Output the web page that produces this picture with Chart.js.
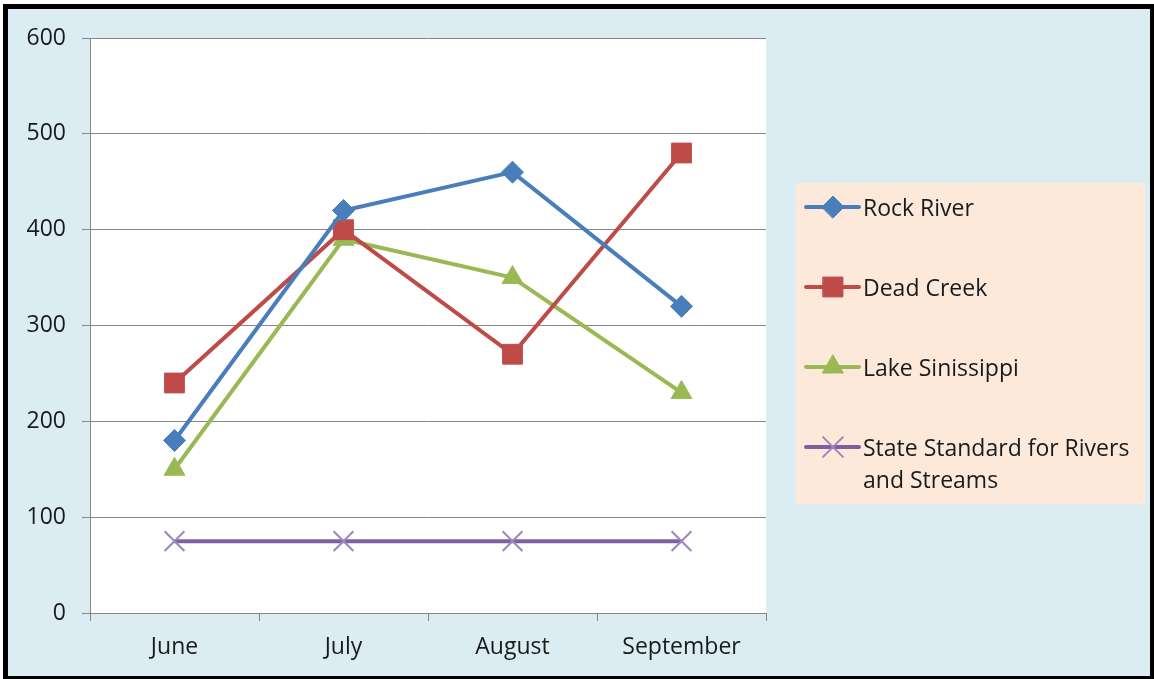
<!DOCTYPE html>
<html>
<head>
<meta charset="utf-8">
<script src="https://cdn.jsdelivr.net/npm/chart.js@4/dist/chart.umd.min.js"></script>
<style>
  html, body { margin: 0; padding: 0; background: #fff; overflow: hidden; }
  #frame {
    position: absolute; left: 3px; top: 4px; width: 1151px; height: 675px;
    box-sizing: border-box; background: #dbedf3;
    border-style: solid; border-color: #000; border-width: 5px 4px 3px 5px;
  }
  #chart { position: absolute; left: 0; top: 0; }
</style>
</head>
<body>
<div id="frame"></div>
<canvas id="chart" width="1154" height="679"></canvas>
<script>
// ── Données ─────────────────────────────────────────
const months = ['June', 'July', 'August', 'September'];
const rockRiver = [180, 420, 460, 320];
const deadCreek = [240, 400, 270, 480];
const lakeSinissippi = [150, 390, 350, 230];
const stateStandard = [75, 75, 75, 75];
const seriesNames = ['Rock River', 'Dead Creek', 'Lake Sinissippi', 'State Standard for Rivers and Streams'];
const yTicks = [0, 100, 200, 300, 400, 500, 600];

const FONT = '"Open Sans", Lato, sans-serif';
const FSIZE = 23;

// ── Fond blanc de la zone de tracé ──────────────────
const plotBg = {
  id: 'plotBg',
  beforeDraw(chart) {
    const { ctx, chartArea: a } = chart;
    ctx.save();
    ctx.fillStyle = '#ffffff';
    ctx.fillRect(a.left, a.top, a.right - a.left, a.bottom - a.top);
    ctx.restore();
  }
};

// ── Légende façon Excel ─────────────────────────────
const boxLegend = {
  id: 'boxLegend',
  afterDraw(chart) {
    const ctx = chart.ctx;
    ctx.save();
    ctx.fillStyle = '#fde9d9';
    ctx.fillRect(796, 183, 349, 321);
    const rows = [[207], [287], [367], [447, 479]];
    const lines = [['Rock River'], ['Dead Creek'], ['Lake Sinissippi'], ['State Standard for Rivers', 'and Streams']];
    chart.data.datasets.forEach((ds, i) => {
      const y = rows[i][0];
      ctx.strokeStyle = ds.borderColor;
      ctx.lineWidth = 4;
      ctx.lineCap = 'round';
      ctx.beginPath();
      ctx.moveTo(806, y);
      ctx.lineTo(859, y);
      ctx.stroke();
      ctx.fillStyle = ds.pointBackgroundColor;
      ctx.strokeStyle = ds.pointBorderColor;
      ctx.lineWidth = ds.pointBorderWidth;
      Chart.helpers.drawPoint(ctx, { pointStyle: ds.pointStyle, radius: ds.pointRadius, rotation: 0, borderWidth: ds.pointBorderWidth }, 833, y);
      ctx.fillStyle = '#1a1a1a';
      ctx.font = FSIZE + 'px ' + FONT;
      ctx.textBaseline = 'middle';
      ctx.textAlign = 'left';
      lines[i].forEach((t, k) => ctx.fillText(t, 863, rows[i][k] + 2));
    });
    ctx.restore();
  }
};

const ds = (label, data, color, style, radius, extra) => Object.assign({
  label, data,
  borderColor: color,
  borderWidth: 4,
  pointStyle: style,
  pointRadius: radius,
  pointHoverRadius: radius,
  pointBackgroundColor: color,
  pointBorderColor: color,
  pointBorderWidth: 1,
  tension: 0,
}, extra || {});

new Chart(document.getElementById('chart'), {
  type: 'line',
  data: {
    labels: months,
    datasets: [
      ds(seriesNames[0], rockRiver, '#4a7ebb', 'rectRot', 11),
      ds(seriesNames[1], deadCreek, '#be4b48', 'rect', 14),
      ds(seriesNames[2], lakeSinissippi, '#98b954', 'triangle', 12),
      ds(seriesNames[3], stateStandard, '#7d60a0', 'crossRot', 14,
         { pointBorderColor: '#9d86bd', pointBorderWidth: 2 })
    ]
  },
  plugins: [plotBg, boxLegend],
  options: {
    responsive: false,
    animation: false,
    devicePixelRatio: 1,
    layout: { padding: { top: 38, right: 388, left: 0, bottom: 0 } },
    plugins: { legend: { display: false }, tooltip: { enabled: false } },
    scales: {
      x: {
        offset: true,
        grid: { offset: true, drawOnChartArea: false, drawTicks: true, tickLength: 8, color: '#868686' },
        border: { color: '#868686', width: 1 },
        ticks: { color: '#1a1a1a', font: { family: FONT, size: FSIZE }, padding: 13, maxRotation: 0 },
        afterFit: s => { s.height = 66; }
      },
      y: {
        min: 0, max: 600,
        afterBuildTicks: s => { s.ticks = yTicks.map(v => ({ value: v })); },
        grid: { color: '#868686', tickLength: 8 },
        border: { color: '#868686', width: 1 },
        ticks: { color: '#1a1a1a', font: { family: FONT, size: FSIZE }, padding: 16 },
        afterFit: s => { s.width = 90; }
      }
    }
  }
});
</script>
</body>
</html>
